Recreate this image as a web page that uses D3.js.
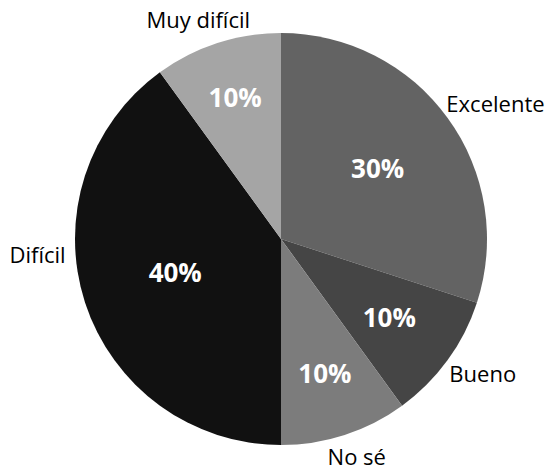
<!DOCTYPE html>
<html>
<head>
<meta charset="utf-8">
<script src="https://cdn.jsdelivr.net/npm/d3@7"></script>
<style>
  html, body { margin: 0; padding: 0; background: #fff; }
  svg { display: block; font-family: "Open Sans", sans-serif; }
</style>
</head>
<body>
<div id="chart"></div>
<script>
const categories = ['Excelente', 'Bueno', 'No sé', 'Difícil', 'Muy difícil'];
const values = [30, 10, 10, 40, 10];
const colors = ['#636363', '#454545', '#7c7c7c', '#111111', '#a5a5a5'];

// layout tweaks (label placement like the original best-fit)
const innerLabelRadius = [0.58, 0.65, 0.69, 0.54, 0.72];
const outerLabelShift = [0, 0, 0, 14, 0];

const width = 557, height = 470;
const cx = 281, cy = 239, radius = 206;

const svg = d3.select('#chart')
  .append('svg')
  .attr('width', width)
  .attr('height', height);

const g = svg.append('g')
  .attr('transform', `translate(${cx}, ${cy})`);

const slices = d3.pie().sort(null)(values);
const arc = d3.arc().innerRadius(0).outerRadius(radius);

g.selectAll('.slice')
  .data(slices)
  .enter()
  .append('path')
  .attr('class', 'slice')
  .attr('d', arc)
  .attr('fill', (d, i) => colors[i]);

const total = d3.sum(values);

g.selectAll('.pct')
  .data(slices)
  .enter()
  .append('text')
  .attr('class', 'pct')
  .attr('transform', (d, i) => {
    const a = (d.startAngle + d.endAngle) / 2;
    const r = radius * innerLabelRadius[i];
    return `translate(${Math.sin(a) * r}, ${-Math.cos(a) * r})`;
  })
  .attr('text-anchor', 'middle')
  .attr('dy', '0.35em')
  .attr('fill', '#fff')
  .attr('font-weight', 'bold')
  .attr('font-size', 26)
  .text(d => `${Math.round(d.value / total * 100)}%`);

const names = g.selectAll('.name')
  .data(slices)
  .enter()
  .append('text')
  .attr('class', 'name')
  .attr('font-size', 22)
  .attr('fill', '#000')
  .attr('text-anchor', 'middle')
  .attr('dy', '0.35em')
  .text((d, i) => categories[i]);

names.each(function(d, i) {
  const a = (d.startAngle + d.endAngle) / 2 + outerLabelShift[i] * Math.PI / 180;
  const r = radius + 10;
  const w = this.getComputedTextLength();
  const s = Math.sin(a), c = Math.cos(a);
  const x = s * r + s * w / 2;
  const y = -c * r - c * 14;
  d3.select(this).attr('x', x).attr('y', y);
});
</script>
</body>
</html>
